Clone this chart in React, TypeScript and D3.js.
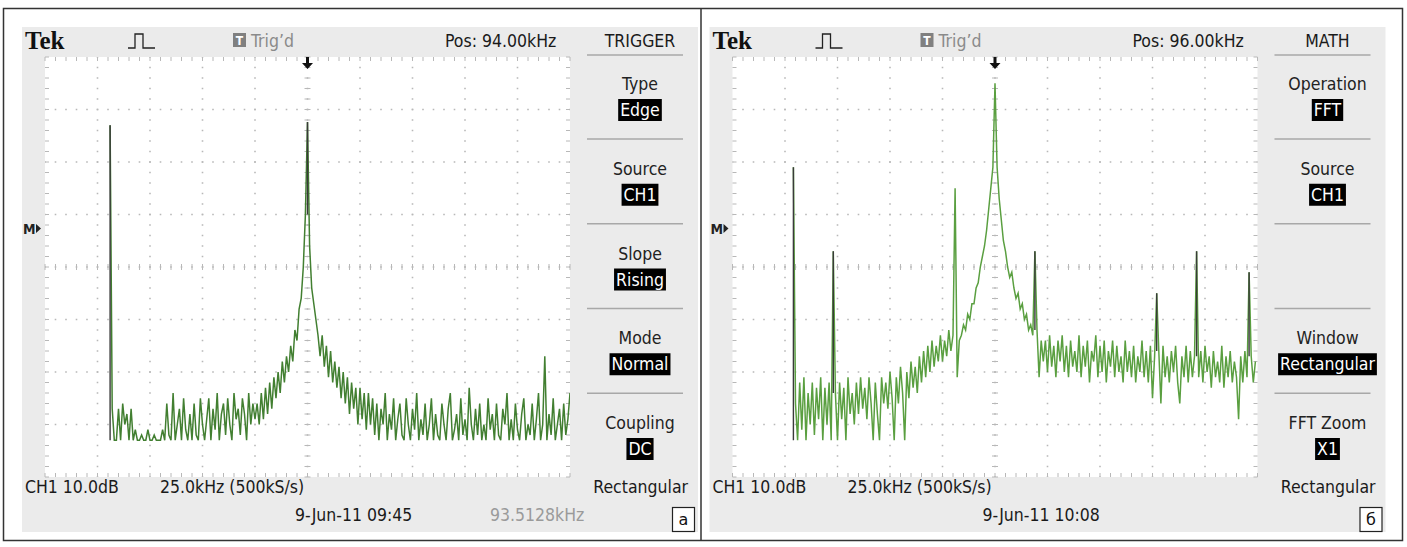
import React, { useRef, useEffect } from "react";
import * as d3 from "d3";

// FFT bins are 1 kHz apart, first bin at 0 kHz. Values in dB (grid top = 0 dB).
const binKHz = 1;

// screen "а": Pos 94.00kHz, 25.0kHz/div, 10 dB/div
const traceA = [
  -13, -67, -73, -73, -67, -73, -66, -70, -68, -73,
  -67, -73, -71, -73, -73, -72, -73, -73, -71, -73,
  -73, -72, -73, -73, -73, -71, -73, -66, -72, -73,
  -64, -73, -70, -67, -73, -65, -71, -73, -68, -73,
  -66, -72, -73, -65, -70, -73, -69, -65, -73, -67,
  -71, -64, -73, -68, -66, -72, -65, -70, -73, -64,
  -69, -67, -72, -65, -68, -73, -64, -70, -66, -69,
  -66, -70, -64, -69, -63, -68, -62, -67, -61, -65,
  -60, -64, -58, -62, -57, -60, -55, -58, -52, -54,
  -48, -46, -40, -30, -12.4, -36, -44, -47, -50, -53,
  -57, -53, -59, -55, -61, -56, -62, -58, -63, -59,
  -65, -60, -66, -61, -68, -62, -67, -63, -70, -63,
  -69, -64, -71, -64, -70, -65, -72, -66, -73, -67,
  -70, -64, -73, -68, -71, -65, -73, -69, -66, -72,
  -73, -65, -70, -73, -67, -71, -64, -73, -69, -72,
  -66, -73, -70, -65, -73, -68, -72, -73, -66, -70,
  -73, -67, -64, -73, -71, -68, -73, -65, -72, -69,
  -73, -63, -70, -73, -67, -72, -66, -73, -70, -73,
  -65, -71, -68, -73, -66, -72, -73, -67, -70, -64,
  -73, -69, -73, -66, -71, -73, -68, -65, -73, -70,
  -72, -66, -73, -69, -64, -73, -70, -57, -73, -68,
  -72, -65, -73, -70, -67, -73, -66, -72, -69, -64,
];

// screen "б": Pos 96.00kHz
const traceB = [
  -21, -66, -73, -62, -71, -61, -73, -64, -70, -62,
  -72, -63, -69, -61, -73, -63, -70, -62, -73, -37,
  -64, -73, -62, -69, -63, -73, -61, -68, -64, -70,
  -62, -68, -61, -67, -63, -69, -61, -66, -73, -62,
  -68, -73, -61, -66, -62, -67, -60, -65, -73, -61,
  -66, -59, -64, -73, -60, -65, -58, -63, -59, -64,
  -57, -62, -56, -61, -55, -60, -54, -59, -55, -58,
  -53, -58, -54, -57, -52, -56, -53, -25, -61, -54,
  -53, -51, -52, -49, -50, -47, -47, -44, -43, -40,
  -38, -36, -33, -29, -25, -21, -5, -21, -27, -31,
  -35, -37, -40, -42, -41, -44, -46, -45, -48, -47,
  -50, -49, -52, -51, -53, -37, -52, -61, -54, -58,
  -54, -60, -53, -59, -55, -61, -54, -58, -53, -60,
  -55, -61, -54, -59, -56, -60, -53, -61, -55, -59,
  -54, -62, -56, -58, -53, -61, -55, -60, -54, -62,
  -56, -59, -54, -61, -55, -60, -57, -62, -54, -60,
  -56, -61, -55, -62, -57, -60, -54, -61, -56, -62,
  -55, -65, -57, -45, -56, -66, -55, -61, -57, -62,
  -56, -60, -55, -62, -66, -57, -61, -55, -62, -56,
  -61, -57, -37, -61, -56, -62, -55, -60, -57, -63,
  -56, -61, -58, -62, -55, -63, -57, -61, -56, -62,
  -58, -61, -69, -57, -62, -56, -61, -41, -57, -62,
  -58,
];

// narrow lines that show up dark on the screen (kHz)
const darkA = [0, 94];
const darkB = [0, 19, 115, 173, 192, 217];

const floorDB = -73;
const topDB = 0;
const dBPerDiv = 10;
const kHzPerDiv = 25;
const positions = [94, 96];

const menuTitles = ["TRIGGER", "MATH"];
const menuA = [["Type", "Edge"], ["Source", "CH1"], ["Slope", "Rising"], ["Mode", "Normal"], ["Coupling", "DC"]];
const menuB = [["Operation", "FFT"], ["Source", "CH1"], ["", ""], ["Window", "Rectangular"], ["FFT Zoom", "X1"]];
const dates = ["9-Jun-11 09:45", "9-Jun-11 10:08"];
const readouts = ["93.5128kHz", ""];
const panelLabels = ["а", "б"];
const traceColors = ["#427f31", "#5a9f40"];

const W = 1407;
const H = 547;

const App = () => {
  const svgRef = useRef<SVGSVGElement>(null);

  useEffect(() => {
    const svg = d3.select(svgRef.current);
    svg.selectAll("*").remove();
    const font = "'DejaVu Sans Condensed', 'DejaVu Sans', sans-serif";
    const fs = 17.5;

    svg.append("rect").attr("width", W).attr("height", H).attr("fill", "#fff");
    svg
      .append("rect")
      .attr("x", 3.5)
      .attr("y", 8.5)
      .attr("width", 1399)
      .attr("height", 532)
      .attr("fill", "none")
      .attr("stroke", "#333")
      .attr("stroke-width", 1.5);
    svg.append("line").attr("x1", 701).attr("x2", 701).attr("y1", 8).attr("y2", 541).attr("stroke", "#333").attr("stroke-width", 1.5);

    const panels = [
      { ox: 0, trace: traceA, dark: darkA, menu: menuA },
      { ox: 687.5, trace: traceB, dark: darkB, menu: menuB },
    ];

    const label = (g, xx, yy, txt, opts: any = {}) =>
      g
        .append("text")
        .attr("x", xx)
        .attr("y", yy)
        .attr("text-anchor", opts.anchor || "start")
        .attr("font-family", font)
        .attr("font-size", opts.size || fs)
        .attr("fill", opts.fill || "#1a1a1a")
        .text(txt);

    panels.forEach((p, pi) => {
      const g = svg.append("g").attr("transform", `translate(${p.ox},0)`);
      const pos = positions[pi];
      const gx0 = 45, gx1 = 570, gy0 = 57, gy1 = 477;
      const x = d3.scaleLinear().domain([pos - 5 * kHzPerDiv, pos + 5 * kHzPerDiv]).range([gx0, gx1]);
      const y = d3.scaleLinear().domain([topDB - 8 * dBPerDiv, topDB]).range([gy1, gy0]);
      const div = (gx1 - gx0) / 10;
      const minor = div / 5;

      g.append("rect").attr("x", 22).attr("y", 27).attr("width", 676).attr("height", 505).attr("fill", "#ebebeb");
      g.append("rect").attr("x", gx0).attr("y", gy0).attr("width", gx1 - gx0).attr("height", gy1 - gy0).attr("fill", "#fff");

      // graticule
      const grid = g.append("g").attr("stroke", "#b8b8b8");
      d3.range(1, 10).forEach((i) => {
        grid.append("line").attr("x1", gx0 + i * div).attr("x2", gx0 + i * div).attr("y1", gy0).attr("y2", gy1)
          .attr("stroke-width", 1.6).attr("stroke-dasharray", `1.6 ${minor - 1.6}`).attr("stroke-dashoffset", 0.8);
      });
      d3.range(1, 8).forEach((i) => {
        grid.append("line").attr("y1", gy0 + i * div).attr("y2", gy0 + i * div).attr("x1", gx0).attr("x2", gx1)
          .attr("stroke-width", 1.6).attr("stroke-dasharray", `1.6 ${minor - 1.6}`).attr("stroke-dashoffset", 0.8);
      });
      const cx = gx0 + 5 * div, cy = gy0 + 4 * div;
      d3.range(0, 51).forEach((k) => {
        const xx = gx0 + k * minor;
        grid.append("line").attr("x1", xx).attr("x2", xx).attr("y1", gy0).attr("y2", gy0 + 4);
        grid.append("line").attr("x1", xx).attr("x2", xx).attr("y1", gy1 - 4).attr("y2", gy1);
        grid.append("line").attr("x1", xx).attr("x2", xx).attr("y1", cy - 3).attr("y2", cy + 3);
      });
      d3.range(0, 41).forEach((k) => {
        const yy = gy0 + k * minor;
        grid.append("line").attr("x1", gx0).attr("x2", gx0 + 4).attr("y1", yy).attr("y2", yy);
        grid.append("line").attr("x1", gx1 - 4).attr("x2", gx1).attr("y1", yy).attr("y2", yy);
        grid.append("line").attr("x1", cx - 3).attr("x2", cx + 3).attr("y1", yy).attr("y2", yy);
      });

      // trace
      const clipId = `clip${pi}`;
      g.append("clipPath").attr("id", clipId).append("rect").attr("x", gx0).attr("y", gy0).attr("width", gx1 - gx0).attr("height", gy1 - gy0);
      const line = d3.line<number>().x((d, i) => x(i * binKHz)).y((d) => y(d));
      g.append("path").datum(p.trace).attr("d", line).attr("fill", "none").attr("stroke", traceColors[pi])
        .attr("stroke-width", 1.5).attr("stroke-linejoin", "miter").attr("clip-path", `url(#${clipId})`);
      p.dark.forEach((f) => {
        const i = Math.round(f / binKHz);
        const base = i === 0 ? floorDB : Math.max(p.trace[i - 1], p.trace[i + 1]);
        g.append("line").attr("x1", x(f)).attr("x2", x(f)).attr("y1", y(p.trace[i])).attr("y2", y(base))
          .attr("stroke", "#3a3a3a").attr("stroke-width", 1.4);
      });

      // trigger position arrow
      g.append("path").attr("d", `M${cx - 1.5},${gy0} h3 v6 h4 l-5.5,6 l-5.5,-6 h4 z`).attr("fill", "#111");
      // reference marker
      g.append("text").attr("x", 23).attr("y", 234).attr("font-family", font).attr("font-size", 14).attr("font-weight", "bold").attr("fill", "#222").text("M");
      g.append("path").attr("d", "M36,224 l5,4.5 l-5,4.5 z").attr("fill", "#222");

      // header
      g.append("text").attr("x", 25).attr("y", 49).attr("font-family", "'Liberation Serif', 'DejaVu Serif', serif")
        .attr("font-weight", "bold").attr("font-size", 25).attr("fill", "#111").text("Tek");
      g.append("path").attr("d", "M128,48 H135 V34 H143 V48 H155").attr("fill", "none").attr("stroke", "#222").attr("stroke-width", 1.3);
      g.append("rect").attr("x", 233).attr("y", 33).attr("width", 13).attr("height", 14).attr("fill", "#808080");
      g.append("text").attr("x", 239.5).attr("y", 45).attr("text-anchor", "middle").attr("font-family", font)
        .attr("font-size", 12).attr("font-weight", "bold").attr("fill", "#fff").text("T");
      label(g, 251, 47, "Trig’d", { fill: "#8a8a8a" });
      label(g, 445, 47, `Pos: ${pos.toFixed(2)}kHz`);

      // side menu
      const mx = 640;
      label(g, mx, 47, menuTitles[pi], { anchor: "middle" });
      g.append("line").attr("x1", 587).attr("x2", 683).attr("y1", 55).attr("y2", 55).attr("stroke", "#a8a8a8").attr("stroke-width", 1.5);
      p.menu.forEach(([name, value], k) => {
        const ly = 84 + k * 84.75;
        if (k < 4) {
          g.append("line").attr("x1", 587).attr("x2", 683).attr("y1", 139 + k * 84.75).attr("y2", 139 + k * 84.75)
            .attr("stroke", "#a8a8a8").attr("stroke-width", 1.5);
        }
        if (!name) return;
        label(g, mx, ly + 6, name, { anchor: "middle", fill: "#222" });
        const vy = ly + 26;
        const bg = g.append("rect").attr("fill", "#000");
        const t = label(g, mx, vy + 6, value, { anchor: "middle", fill: "#fff" });
        const w = (t.node() as SVGTextElement).getComputedTextLength();
        bg.attr("x", mx - w / 2 - 2).attr("y", vy - 11).attr("width", w + 4).attr("height", 22);
      });

      // bottom readouts
      label(g, 25, 493, `CH1 ${dBPerDiv.toFixed(1)}dB`);
      label(g, 160, 493, `${kHzPerDiv.toFixed(1)}kHz (500kS/s)`);
      label(g, 688, 493, "Rectangular", { anchor: "end" });
      label(g, 295, 521, dates[pi]);
      if (readouts[pi]) label(g, 490, 521, readouts[pi], { fill: "#9a9a9a" });

      // figure label
      g.append("rect").attr("x", 672.5).attr("y", 507.5).attr("width", 22).attr("height", 24).attr("fill", "#fff").attr("stroke", "#222").attr("stroke-width", 1.2);
      g.append("text").attr("x", 683.5).attr("y", 525).attr("text-anchor", "middle").attr("font-family", "'DejaVu Sans', sans-serif")
        .attr("font-size", 16).attr("fill", "#111").text(panelLabels[pi]);
    });
  }, []);

  return (
    <div style={{ position: "absolute", left: 0, top: 0 }}>
      <svg ref={svgRef} width={W} height={H}></svg>
    </div>
  );
};

export default App;
